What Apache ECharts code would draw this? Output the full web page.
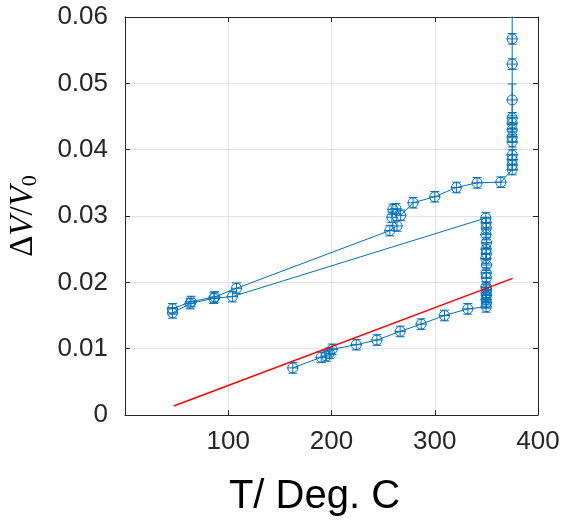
<!DOCTYPE html>
<html>
<head>
<meta charset="utf-8">
<script src="https://cdn.jsdelivr.net/npm/echarts@6/dist/echarts.min.js"></script>
<style>
  html, body { margin: 0; padding: 0; background: #fff; }
  #chart { width: 569px; height: 523px; }
</style>
</head>
<body>
<div id="chart"></div>
<script>
// Run 1: heating to 104 C, hold at ~350 C, then cooling back down
const run1T = [46, 63, 86, 104,
  349.5, 349.8, 350, 349.6, 350.2, 349.8, 350, 349.5, 350.1, 349.8, 350, 349.6, 350.2, 349.8, 350, 349.7, 350.1, 349.8,
  332, 309.4, 286.8, 266.5, 244, 224, 200.7, 198, 195, 190, 162.5];
const run1dV = [0.0154, 0.0168, 0.0176, 0.01785,
  0.0297, 0.0290, 0.0282, 0.0272, 0.0260, 0.0250, 0.0243, 0.0236, 0.0226, 0.0214, 0.0207, 0.0193, 0.0189, 0.0184, 0.0180, 0.0174, 0.0169, 0.0163,
  0.0160, 0.0150, 0.0137, 0.0126, 0.0113, 0.0106, 0.0099, 0.0093, 0.0089, 0.0087, 0.0071];
const run1Err = [0.0008, 0.0008, 0.0008, 0.0008,
  0.0008, 0.0008, 0.0008, 0.0008, 0.0008, 0.0008, 0.0008, 0.0008, 0.0008, 0.0008, 0.0008, 0.0008, 0.0008, 0.0008, 0.0008, 0.0008, 0.0008, 0.0008,
  0.0008, 0.0008, 0.0008, 0.0008, 0.0008, 0.0008, 0.0008, 0.0008, 0.0008, 0.0008, 0.0008];

// Run 2: reheating up to ~375 C
const run2T = [46, 64, 87, 108, 256.5, 263.5, 258.5, 259.5, 262.5, 267, 279, 300, 321, 341, 364,
  375, 375, 375, 375, 375, 375, 375, 375, 375, 375, 375, 375, 375];
const run2dV = [0.0160, 0.0171, 0.0178, 0.0191, 0.0278, 0.0285, 0.0298, 0.0310, 0.0311, 0.0301, 0.0320, 0.0329, 0.0343, 0.0350, 0.0351,
  0.0370, 0.0377, 0.0385, 0.0392, 0.0412, 0.0419, 0.0430, 0.0440, 0.0448, 0.0475, 0.0529, 0.0567, 0.0625];
const run2Err = [0.0008, 0.0008, 0.0008, 0.0008, 0.0008, 0.0008, 0.0008, 0.0008, 0.0008, 0.0008, 0.0008, 0.0008, 0.0008, 0.0008, 0.0008,
  0.0008, 0.0008, 0.0008, 0.0008, 0.0008, 0.0008, 0.0008, 0.0008, 0.0008, 0.0024, 0.0008, 0.0008, 0.0025];

// Temperature uncertainty (deg C)
const tErr = 5.5;

// Linear fit line end points
const fitT = [47.2, 375.5];
const fitdV = [0.00136, 0.0206];

// Axis ticks
const xTicks = [0, 100, 200, 300, 400];
const yTicks = [0, 0.01, 0.02, 0.03, 0.04, 0.05, 0.06];

const BLUE = '#0072BD';
const AXIS = '#262626';
const FONT = '"Liberation Sans", Arial, Helvetica, sans-serif';
const SERIF = '"Liberation Serif", "DejaVu Serif", serif';

function pairs(a, b) { return a.map((v, i) => [v, b[i]]); }
function errRows(t, v, e) { return t.map((x, i) => [x, v[i], e[i], tErr]); }

// Circle marker with vertical (capped) and horizontal error bars
function renderErr(params, api) {
  const x = api.value(0), y = api.value(1), e = api.value(2), ex = api.value(3);
  const c = api.coord([x, y]);
  const top = api.coord([x, y + e]);
  const bot = api.coord([x, y - e]);
  const lft = api.coord([x - ex, y]);
  const rgt = api.coord([x + ex, y]);
  const cap = 4.5;
  const st = { stroke: BLUE, lineWidth: 1, fill: null };
  return {
    type: 'group',
    children: [
      { type: 'line', shape: { x1: c[0], y1: top[1], x2: c[0], y2: bot[1] }, style: st },
      { type: 'line', shape: { x1: c[0] - cap, y1: top[1], x2: c[0] + cap, y2: top[1] }, style: st },
      { type: 'line', shape: { x1: c[0] - cap, y1: bot[1], x2: c[0] + cap, y2: bot[1] }, style: st },
      { type: 'line', shape: { x1: lft[0], y1: c[1], x2: rgt[0], y2: c[1] }, style: st },
      { type: 'circle', shape: { cx: c[0], cy: c[1], r: 5 }, style: { stroke: BLUE, lineWidth: 1, fill: 'none' } }
    ]
  };
}

const chart = echarts.init(document.getElementById('chart'), null, { renderer: 'canvas' });

const tickStyle = { show: true, inside: true, length: 5, lineStyle: { color: AXIS, width: 1 } };
const lineStyleAxis = { show: true, onZero: false, lineStyle: { color: AXIS, width: 1 } };

chart.setOption({
  animation: false,
  backgroundColor: '#fff',
  grid: { left: 125, right: 31, top: 17, bottom: 108, containLabel: false, outerBoundsMode: 'none' },
  xAxis: [{
    type: 'value', position: 'bottom',
    min: xTicks[0], max: xTicks[xTicks.length - 1], interval: xTicks[1] - xTicks[0],
    axisLine: lineStyleAxis, axisTick: tickStyle,
    axisLabel: {
      fontSize: 26, color: AXIS, fontFamily: FONT, margin: 14,
      formatter: v => (v === 0 ? '' : String(v))
    },
    splitLine: { show: true, lineStyle: { color: '#e3e3e3', width: 1 } },
    name: 'T/ Deg. C', nameLocation: 'middle', nameGap: 62,
    nameTextStyle: { fontSize: 40, color: '#000', fontFamily: FONT, padding: [0, 34, 0, 0] }
  }, {
    type: 'value', position: 'top',
    min: xTicks[0], max: xTicks[xTicks.length - 1], interval: xTicks[1] - xTicks[0],
    axisLine: lineStyleAxis, axisTick: tickStyle,
    axisLabel: { show: false }, splitLine: { show: false }
  }],
  yAxis: [{
    type: 'value', position: 'left',
    min: yTicks[0], max: yTicks[yTicks.length - 1], interval: 0.01,
    axisLine: lineStyleAxis, axisTick: tickStyle,
    axisLabel: {
      fontSize: 26, color: AXIS, fontFamily: FONT, margin: 17,
      formatter: v => (v === 0 ? '0' : v.toFixed(2))
    },
    splitLine: { show: true, lineStyle: { color: '#e3e3e3', width: 1 } },
    name: '{a|Δ}{b|V}{a|/}{b|V}{c|0}',
    nameLocation: 'middle', nameRotate: 90, nameGap: 84,
    nameTextStyle: {
      color: '#000',
      rich: {
        a: { fontSize: 33, fontFamily: SERIF, color: '#000', lineHeight: 36 },
        b: { fontSize: 33, fontFamily: SERIF, fontStyle: 'italic', color: '#000', lineHeight: 36 },
        c: { fontSize: 22, fontFamily: SERIF, color: '#000', verticalAlign: 'bottom' }
      }
    }
  }, {
    type: 'value', position: 'right',
    min: yTicks[0], max: yTicks[yTicks.length - 1], interval: 0.01,
    axisLine: lineStyleAxis, axisTick: tickStyle,
    axisLabel: { show: false }, splitLine: { show: false }
  }],
  series: [
    {
      type: 'line', data: pairs(run1T, run1dV), showSymbol: false, clip: true,
      lineStyle: { color: BLUE, width: 1 }, z: 2
    },
    {
      type: 'line', data: pairs(run2T, run2dV), showSymbol: false, clip: true,
      lineStyle: { color: BLUE, width: 1 }, z: 2
    },
    {
      type: 'custom', data: errRows(run1T, run1dV, run1Err), renderItem: renderErr, clip: true,
      encode: { x: 0, y: 1 }, z: 3
    },
    {
      type: 'custom', data: errRows(run2T, run2dV, run2Err), renderItem: renderErr, clip: true,
      encode: { x: 0, y: 1 }, z: 3
    },
    {
      type: 'line', data: pairs(fitT, fitdV), showSymbol: false, clip: true,
      lineStyle: { color: '#ff0000', width: 1.5 }, z: 4
    }
  ]
});
</script>
</body>
</html>
